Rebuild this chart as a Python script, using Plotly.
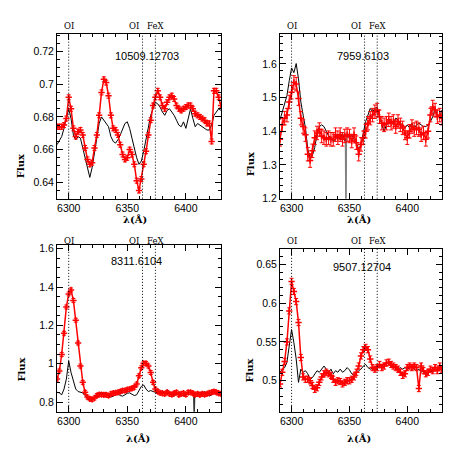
import plotly.graph_objects as go

W = 458
H = 458

WAVE = [6290, 6292, 6294, 6296, 6298, 6300, 6302, 6304, 6306, 6308,
        6310, 6312, 6314, 6316, 6318, 6320, 6322, 6324, 6326, 6328,
        6330, 6332, 6334, 6336, 6338, 6340, 6342, 6344, 6346, 6348,
        6350, 6352, 6354, 6356, 6358, 6360, 6362, 6364, 6366, 6368,
        6370, 6372, 6374, 6376, 6378, 6380, 6382, 6384, 6386, 6388,
        6390, 6392, 6394, 6396, 6398, 6400, 6402, 6404, 6406, 6408,
        6410, 6412, 6414, 6416, 6418, 6420, 6422, 6424, 6426, 6428,
        6430]

TITLES = ["10509.12703", "7959.6103", "8311.6104", "9507.12704"]
LINE_WAVES = [6300, 6363, 6374]
LINE_LABELS = [("OI", 6300, "center"), ("OI", 6362, "right"), ("FeX", 6374.5, "center")]

RED_1 = [0.674, 0.674, 0.674, 0.675, 0.679, 0.692, 0.685, 0.673, 0.668, 0.671,
         0.672, 0.669, 0.661, 0.654, 0.651, 0.652, 0.661, 0.669, 0.681, 0.695,
         0.703, 0.701, 0.693, 0.681, 0.673, 0.672, 0.669, 0.663, 0.657, 0.654,
         0.655, 0.660, 0.657, 0.651, 0.641, 0.635, 0.642, 0.651, 0.659, 0.669,
         0.678, 0.687, 0.692, 0.696, 0.692, 0.687, 0.685, 0.689, 0.692, 0.693,
         0.691, 0.687, 0.685, 0.684, 0.685, 0.686, 0.687, 0.687, 0.685, 0.682,
         0.681, 0.680, 0.679, 0.678, 0.676, 0.676, 0.665, 0.696, 0.696, 0.692,
         0.687]
BLACK_1 = [0.663, 0.666, 0.668, 0.673, 0.679, 0.685, 0.679, 0.669, 0.666, 0.668,
           0.667, 0.661, 0.655, 0.650, 0.643, 0.649, 0.659, 0.669, 0.676, 0.680,
           0.678, 0.676, 0.674, 0.668, 0.665, 0.664, 0.666, 0.669, 0.672, 0.676,
           0.677, 0.673, 0.667, 0.661, 0.655, 0.651, 0.653, 0.659, 0.666, 0.674,
           0.681, 0.685, 0.689, 0.688, 0.686, 0.683, 0.681, 0.684, 0.685, 0.683,
           0.681, 0.678, 0.675, 0.674, 0.677, 0.673, 0.679, 0.685, 0.679, 0.674,
           0.676, 0.675, 0.674, 0.673, 0.672, 0.672, 0.675, 0.681, 0.683, 0.685,
           0.684]

RED_2 = [1.376, 1.419, 1.439, 1.448, 1.487, 1.516, 1.545, 1.540, 1.497, 1.439,
         1.414, 1.390, 1.332, 1.313, 1.342, 1.381, 1.395, 1.405, 1.386, 1.381,
         1.376, 1.381, 1.376, 1.376, 1.390, 1.381, 1.390, 1.376, 1.386, 1.390,
         1.386, 1.371, 1.390, 1.366, 1.332, 1.361, 1.381, 1.400, 1.424, 1.439,
         1.448, 1.458, 1.463, 1.443, 1.424, 1.419, 1.424, 1.434, 1.424, 1.429,
         1.414, 1.429, 1.419, 1.410, 1.395, 1.381, 1.400, 1.414, 1.405, 1.410,
         1.405, 1.390, 1.395, 1.376, 1.400, 1.448, 1.472, 1.463, 1.443, 1.448,
         1.439]
BLACK_2 = [1.434, 1.458, 1.477, 1.506, 1.550, 1.588, 1.574, 1.601, 1.555, 1.487,
           1.448, 1.410, 1.347, 1.323, 1.328, 1.352, 1.390, 1.414, 1.419, 1.414,
           1.400, 1.386, 1.381, 1.371, 1.376, 1.390, 1.376, 1.395, 1.371, 1.386,
           1.381, 1.390, 1.376, 1.366, 1.347, 1.361, 1.395, 1.429, 1.448, 1.468,
           1.458, 1.468, 1.472, 1.443, 1.419, 1.400, 1.419, 1.424, 1.429, 1.419,
           1.439, 1.434, 1.424, 1.419, 1.410, 1.419, 1.410, 1.424, 1.410, 1.419,
           1.424, 1.419, 1.414, 1.414, 1.419, 1.429, 1.443, 1.468, 1.448, 1.443,
           1.463]
SPIKE_2_WAVE = [6346.5, 6347.0, 6347.5]
SPIKE_2_FLUX = [1.371, 1.05, 1.386]

RED_3 = [0.920, 0.962, 1.048, 1.159, 1.296, 1.364, 1.385, 1.330, 1.227, 1.108,
         0.988, 0.903, 0.851, 0.826, 0.817, 0.814, 0.821, 0.834, 0.839, 0.839,
         0.838, 0.838, 0.834, 0.843, 0.846, 0.848, 0.851, 0.855, 0.860, 0.860,
         0.865, 0.868, 0.872, 0.877, 0.894, 0.937, 0.979, 1.002, 1.002, 0.988,
         0.954, 0.903, 0.868, 0.855, 0.848, 0.846, 0.843, 0.851, 0.843, 0.839,
         0.846, 0.851, 0.838, 0.843, 0.846, 0.839, 0.851, 0.851, 0.846, 0.839,
         0.843, 0.838, 0.843, 0.839, 0.843, 0.848, 0.851, 0.855, 0.851, 0.846,
         0.843]
BLACK_3 = [0.851, 0.848, 0.838, 0.868, 0.920, 1.014, 0.954, 0.903, 0.868, 0.855,
           0.851, 0.848, 0.834, 0.817, 0.809, 0.809, 0.826, 0.846, 0.846, 0.846,
           0.848, 0.846, 0.834, 0.826, 0.831, 0.838, 0.843, 0.834, 0.831, 0.838,
           0.846, 0.848, 0.843, 0.834, 0.838, 0.860, 0.882, 0.889, 0.868, 0.855,
           0.860, 0.855, 0.851, 0.848, 0.846, 0.855, 0.843, 0.865, 0.855, 0.838,
           0.831, 0.843, 0.855, 0.838, 0.831, 0.843, 0.851, 0.846, 0.848, 0.843,
           0.846, 0.851, 0.848, 0.855, 0.843, 0.831, 0.838, 0.848, 0.846, 0.838,
           0.843]
SPIKE_3_WAVE = [6406.6, 6407.1, 6407.6]
SPIKE_3_FLUX = [0.848, 0.70, 0.843]

RED_4 = [0.496, 0.511, 0.525, 0.550, 0.590, 0.628, 0.615, 0.602, 0.575, 0.530,
         0.505, 0.502, 0.502, 0.500, 0.494, 0.489, 0.491, 0.498, 0.505, 0.509,
         0.511, 0.509, 0.507, 0.502, 0.498, 0.500, 0.499, 0.496, 0.498, 0.500,
         0.500, 0.502, 0.505, 0.511, 0.519, 0.532, 0.540, 0.543, 0.540, 0.528,
         0.517, 0.515, 0.517, 0.521, 0.517, 0.519, 0.523, 0.524, 0.521, 0.519,
         0.517, 0.515, 0.511, 0.507, 0.509, 0.517, 0.519, 0.517, 0.519, 0.517,
         0.490, 0.519, 0.513, 0.509, 0.511, 0.515, 0.513, 0.517, 0.513, 0.519,
         0.515]
BLACK_4 = [0.511, 0.515, 0.517, 0.524, 0.545, 0.566, 0.549, 0.528, 0.498, 0.515,
           0.511, 0.513, 0.509, 0.502, 0.504, 0.509, 0.513, 0.511, 0.515, 0.519,
           0.515, 0.511, 0.515, 0.509, 0.513, 0.511, 0.515, 0.511, 0.513, 0.517,
           0.514, 0.509, 0.507, 0.509, 0.513, 0.515, 0.519, 0.521, 0.517, 0.515,
           0.516, 0.517, 0.519, 0.521, 0.519, 0.521, 0.524, 0.521, 0.519, 0.517,
           0.519, 0.515, 0.517, 0.515, 0.517, 0.515, 0.517, 0.519, 0.515, 0.513,
           0.515, 0.511, 0.513, 0.507, 0.509, 0.513, 0.511, 0.515, 0.513, 0.515,
           0.513]

RED_ERR = [0.0015, 0.02, 0.01, 0.004]
REDS = [RED_1, RED_2, RED_3, RED_4]
BLACKS = [BLACK_1, BLACK_2, BLACK_3, BLACK_4]
SPIKES = {1: (SPIKE_2_WAVE, SPIKE_2_FLUX, "#808080"), 2: (SPIKE_3_WAVE, SPIKE_3_FLUX, "#333333")}

Y_RANGES = [[0.63, 0.731], [1.2, 1.69], [0.749, 1.62], [0.46, 0.67]]
Y_DTICK = [0.02, 0.1, 0.2, 0.05]
Y_MINOR = [0.005, 0.02, 0.05, 0.01]
X_RANGE = [6290, 6430]

# panel boxes in pixels: (left, right, top, bottom)
BOX = [(49, 213, 24, 192), (272, 434, 24, 192), (49, 213, 239, 409), (272, 434, 243, 409)]


def px(x):
    return x / W


def py(y):
    return 1 - y / H


fig = go.Figure()
annotations = []
shapes = []

TICKFONT = dict(family="Liberation Sans, Arial, sans-serif", size=10.5, color="black")
LABFONT = dict(family="DejaVu Serif, serif", size=8.5, color="black")

for i in range(4):
    n = "" if i == 0 else str(i + 1)
    xa = "x" + n
    ya = "y" + n
    l, r, t, b = BOX[i]
    fig.add_trace(go.Scatter(x=WAVE, y=BLACKS[i], mode="lines",
                             line=dict(color="black", width=1),
                             xaxis=xa, yaxis=ya, showlegend=False))
    if i in SPIKES:
        sw, sf, sc = SPIKES[i]
        fig.add_trace(go.Scatter(x=sw, y=sf, mode="lines",
                                 line=dict(color=sc, width=1.2),
                                 xaxis=xa, yaxis=ya, showlegend=False))
    fig.add_trace(go.Scatter(x=WAVE, y=REDS[i], mode="lines+markers",
                             line=dict(color="red", width=1.5),
                             marker=dict(symbol="cross-thin", size=4.5,
                                         line=dict(color="red", width=1.5)),
                             error_y=dict(type="constant", value=RED_ERR[i],
                                          color="red", thickness=1, width=2),
                             xaxis=xa, yaxis=ya, showlegend=False))
    common = dict(showgrid=False, zeroline=False, showline=True, linecolor="black",
                  linewidth=1, mirror="ticks", ticks="inside", ticklen=6,
                  tickcolor="black", tickwidth=1, tickfont=TICKFONT)
    fig.layout["xaxis" + n] = dict(
        domain=[px(l), px(r)], anchor=ya, range=X_RANGE, tick0=6300, dtick=50,
        minor=dict(ticks="inside", ticklen=3, dtick=10, tick0=6300,
                   tickcolor="black", showgrid=False),
        **common)
    fig.layout["yaxis" + n] = dict(
        domain=[py(b), py(t)], anchor=xa, range=Y_RANGES[i], dtick=Y_DTICK[i],
        tick0=0, minor=dict(ticks="inside", ticklen=3, dtick=Y_MINOR[i], tick0=0,
                            tickcolor="black", showgrid=False),
        **common)
    for wl in LINE_WAVES:
        shapes.append(dict(type="line", xref=xa, yref=ya + " domain",
                           x0=wl, x1=wl, y0=0, y1=1,
                           line=dict(color="black", width=1, dash="1px,2px")))
    lab_y = 16 if i < 2 else 235
    for text, wl, anc in LINE_LABELS:
        annotations.append(dict(text=text, x=wl, xref=xa, y=py(lab_y), yref="paper",
                                showarrow=False, font=LABFONT,
                                xanchor=anc, yanchor="middle"))

title_pos = [(6366.5, 47), (6362, 47), (6357.5, 255), (6360.5, 262)]
for i in range(4):
    n = "" if i == 0 else str(i + 1)
    tx, ty = title_pos[i]
    annotations.append(dict(text=TITLES[i], x=tx, xref="x" + n, y=py(ty), yref="paper",
                            showarrow=False, font=dict(family="Liberation Sans, Arial", size=11,
                                                       color="black"),
                            xanchor="center", yanchor="middle"))

flux_pos = [(12, 159), (242, 157), (14, 366), (242, 367)]
lam_pos = [(127, 213), (351, 213), (130, 436), (351, 436)]
for i in range(4):
    fx, fy = flux_pos[i]
    annotations.append(dict(text="<b>Flux</b>", x=px(fx), y=py(fy), xref="paper", yref="paper",
                            showarrow=False, textangle=-90,
                            font=dict(family="DejaVu Serif, serif", size=10, color="black"),
                            xanchor="center", yanchor="middle"))
    lx, ly = lam_pos[i]
    annotations.append(dict(text="<b>λ(Å)</b>", x=px(lx), y=py(ly), xref="paper", yref="paper",
                            showarrow=False,
                            font=dict(family="DejaVu Serif, serif", size=10, color="black"),
                            xanchor="center", yanchor="middle"))

fig.update_layout(width=W, height=H, autosize=False,
                  margin=dict(l=0, r=0, t=0, b=0),
                  paper_bgcolor="white", plot_bgcolor="white",
                  annotations=annotations, shapes=shapes)

fig.write_html("out.html")
